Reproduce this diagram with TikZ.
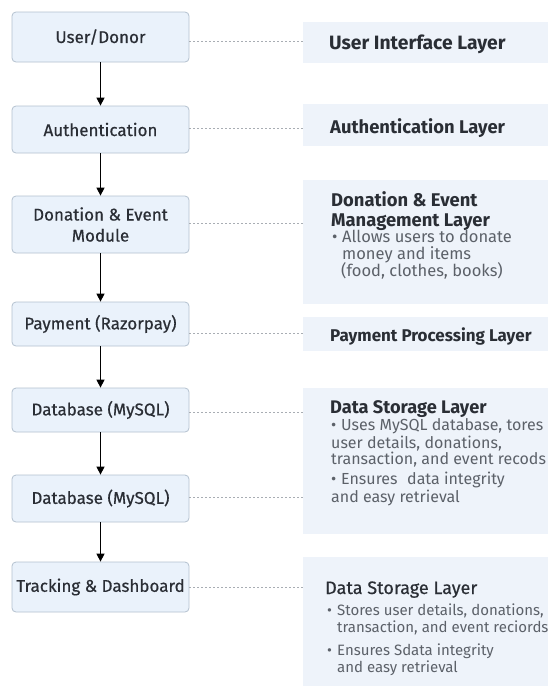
\documentclass[tikz,border=0pt]{standalone}
\usepackage{fontspec}
\setmainfont{Fira Sans}
\newfontfamily\medfont{Fira Sans}[FakeBold=0.5]
\usetikzlibrary{arrows.meta}
\definecolor{boxfill}{HTML}{EAF2FB}
\definecolor{boxline}{HTML}{B4C1CF}
\definecolor{layerfill}{HTML}{EEF3FA}
\definecolor{ink}{HTML}{2A2E35}
\definecolor{soft}{HTML}{5C6169}
\definecolor{dashgray}{HTML}{A8ADB3}
\newcommand{\bul}{\makebox[10pt][l]{•}}
\tikzset{
  x=1pt, y=-1pt,
  module/.style={draw=boxline, line width=0.8pt, fill=boxfill, rounded corners=4pt,
    minimum width=177pt, text=ink, font=\fontsize{17}{21}\selectfont\medfont, align=center, inner sep=0pt},
  layer/.style={fill=layerfill, draw=none},
  title/.style={anchor=base west, text=ink, font=\fontsize{#1}{20}\selectfont\bfseries, align=left, inner sep=0pt},
  title/.default=18,
  plaintitle/.style={anchor=base west, text=ink, font=\fontsize{#1}{20}\selectfont\medfont, inner sep=0pt},
  plaintitle/.default=18,
  note/.style={anchor=base west, text=soft, font=\fontsize{#1}{17}\selectfont, align=left, inner sep=0pt},
  note/.default=16,
  flow/.style={draw=black, line width=1.4pt, -{Triangle[length=8pt,width=8pt]}},
  link/.style={draw=dashgray, line width=0.7pt, dash pattern=on 2pt off 2pt}
}
\begin{document}
\begin{tikzpicture}
\useasboundingbox (0,0) rectangle (550,689);
\fill[white] (0,0) rectangle (550,689);

% layer panels on the right
\path[layer] (303,22) rectangle (548,63);
\path[layer] (303,104) rectangle (548,146);
\path[layer] (303,180) rectangle (548,304);
\path[layer] (303,317) rectangle (548,351);
\path[layer] (303,388) rectangle (548,534);
\path[layer] (303,557) rectangle (548,686);
\coordinate (r1w) at (303,41);
\coordinate (r2w) at (303,128);
\coordinate (r3w) at (303,223);
\coordinate (r4w) at (303,333);
\coordinate (r5w) at (303,412);
\coordinate (r6w) at (303,497);
\coordinate (r7w) at (303,587);

% module boxes on the left
\node[module, minimum height=50pt] (m1) at (100.5,37) {User/Donor};
\node[module, minimum height=47pt] (m2) at (100.5,129.5) {Authentication};
\node[module, minimum height=57pt] (m3) at (100.5,224.5) {Donation \& Event\\Module};
\node[module, minimum height=44pt] (m4) at (100.5,324) {Payment (Razorpay)};
\node[module, minimum height=44pt] (m5) at (100.5,410) {Database (MySQL)};
\node[module, minimum height=47pt] (m6) at (100.5,498.5) {Database (MySQL)};
\node[module, minimum height=50pt] (m7) at (100.5,587) {Tracking \& Dashboard};

% flow arrows
\draw[flow] (m1) -- (m2);
\draw[flow] (m2) -- (m3);
\draw[flow] (m3) -- (m4);
\draw[flow] (m4) -- (m5);
\draw[flow] (m5) -- (m6);
\draw[flow] (m6) -- (m7);

% dashed links to the layers
\draw[link] (m1.east |- r1w) -- (r1w);
\draw[link] (m2.east |- r2w) -- (r2w);
\draw[link] (m3.east |- r3w) -- (r3w);
\draw[link] (m4.east |- r4w) -- (r4w);
\draw[link] (m5.east |- r5w) -- (r5w);
\draw[link] (m6.east |- r6w) -- (r6w);
\draw[link] (m7.east |- r7w) -- (r7w);

% layer texts (positions are baselines of the last line)
\node[title=19.3] (t1) at (329,49) {User Interface Layer};
\node[title=18.4] (t2) at (330,133) {Authentication Layer};
\node[title=18.4] (t3) at (331,226) {Donation \& Event\\Management Layer};
\node[note=16.5] (b3a) at (332,242) {\bul Allows users to donate};
\node[note=16.5] (b3b) at (342,259) {money and items};
\node[note=16.5] (b3c) at (341,276) {(food, clothes, books)};
\node[title=17] (t4) at (330,341) {Payment Processing Layer};
\node[title=18.2] (t5) at (330,413) {Data Storage Layer};
\node[note=16] (b5a) at (331,430) {\bul Uses MySQL database, tores};
\node[note=16] (b5b) at (331,448) {user details, donations,};
\node[note=16] (b5c) at (331,464) {transaction, and event recods};
\node[note=16] (b5d) at (331,484) {\bul Ensures\,\, data integrity};
\node[note=16] (b5e) at (331,502) {and easy retrieval};
\node[plaintitle=18] (t6) at (325,594) {Data Storage Layer};
\node[note=15] (b6a) at (327,615) {\bul Stores user details, donations,};
\node[note=15] (b6b) at (337,632) {transaction, and event reciords};
\node[note=15] (b6c) at (327,655) {\bul Ensures Sdata integrity};
\node[note=15] (b6d) at (337,672) {and easy retrieval};
\end{tikzpicture}
\end{document}
